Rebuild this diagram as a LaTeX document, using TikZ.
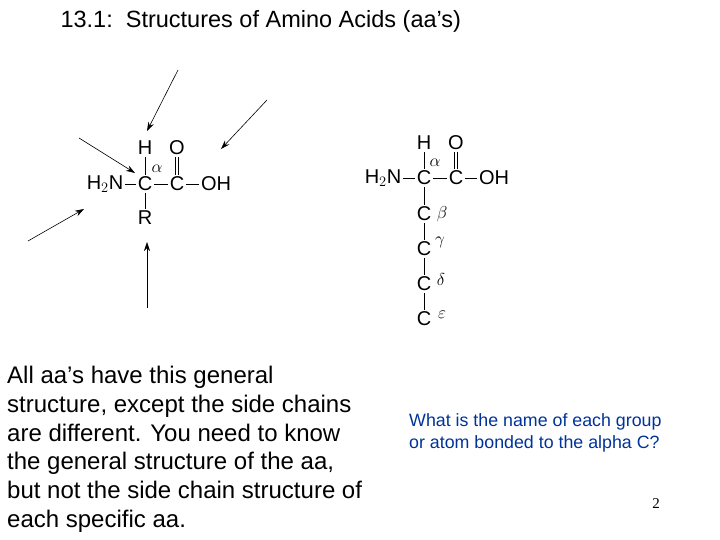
\documentclass[tikz,border=0pt]{standalone}
\usepackage{fontspec}
\usetikzlibrary{arrows.meta}
\setmainfont{Liberation Sans}
\newfontfamily\greekf{Liberation Serif}
\definecolor{qblue}{RGB}{0,51,153}
\begin{document}
\begin{tikzpicture}[x=1pt,y=-1pt,
  atm/.style={inner sep=2pt,font=\fontsize{20}{20}\selectfont},
  gr/.style={inner sep=0pt,font=\fontsize{19}{19}\selectfont\greekf},
  bond/.style={line width=0.6pt},
  pt/.style={-{Stealth[length=9pt,width=6pt]},line width=0.6pt}]
\useasboundingbox (0,0) rectangle (720,540);
\node[anchor=west,font=\fontsize{23.5}{23.5}\selectfont] (title) at (57,21) {13.1:\ \ Structures of Amino Acids (aa’s)};
% left molecule
\node[atm] (n1) at (105,184) {H$_2$N};
\node[atm] (c1) at (145,184) {C};
\node[atm] (k1) at (177,184) {C};
\node[atm] (oh1) at (216,184) {OH};
\node[atm] (h1) at (145,148) {H};
\node[atm] (o1) at (177,148) {O};
\node[atm] (r1) at (145,218) {R};
\node[gr] (a1) at (157,169) {$\alpha$};
\draw[bond] (n1) -- (c1); \draw[bond] (c1) -- (k1); \draw[bond] (k1) -- (oh1);
\draw[bond] (c1) -- (h1); \draw[bond] (c1) -- (r1);
\draw[bond] ([xshift=-1.5pt]k1.north) -- ([xshift=-1.5pt]o1.south);
\draw[bond] ([xshift=1.5pt]k1.north) -- ([xshift=1.5pt]o1.south);
\coordinate (s1) at (178,70); \coordinate (e1) at (147,131);
\coordinate (s2) at (267,100); \coordinate (e2) at (221,149);
\coordinate (s3) at (79,138); \coordinate (e3) at (135,173);
\coordinate (s4) at (28,241); \coordinate (e4) at (84,209);
\coordinate (s5) at (147,308); \coordinate (e5) at (147,242);
\foreach \i in {1,...,5} \draw[pt] (s\i) -- (e\i);
% right molecule
\node[atm] (n2) at (383,178) {H$_2$N};
\node[atm] (c2) at (424,178) {C};
\node[atm] (k2) at (456,178) {C};
\node[atm] (oh2) at (494,178) {OH};
\node[atm] (h2) at (424,143) {H};
\node[atm] (o2) at (456,143) {O};
\node[gr] (a2) at (435,163) {$\alpha$};
\node[atm] (cb) at (424,214) {C};
\node[atm] (cg) at (424,249) {C};
\node[atm] (cd) at (424,284) {C};
\node[atm] (ce) at (424,319) {C};
\node[gr] (lb) at (442,214) {$\beta$};
\node[gr] (lg) at (440,242) {$\gamma$};
\node[gr] (ld) at (441,279) {$\delta$};
\node[gr] (le) at (442,315) {$\varepsilon$};
\draw[bond] (n2) -- (c2); \draw[bond] (c2) -- (k2); \draw[bond] (k2) -- (oh2);
\draw[bond] (c2) -- (h2); \draw[bond] (c2) -- (cb); \draw[bond] (cb) -- (cg);
\draw[bond] (cg) -- (cd); \draw[bond] (cd) -- (ce);
\draw[bond] ([xshift=-1.5pt]k2.north) -- ([xshift=-1.5pt]o2.south);
\draw[bond] ([xshift=1.5pt]k2.north) -- ([xshift=1.5pt]o2.south);
% texts
\node[anchor=north west,align=left,inner sep=0pt,font=\fontsize{24}{28.8}\selectfont] (para) at (7,366)
{All aa’s have this general\\structure, except the side chains\\are different. You need to know\\the general structure of the aa,\\but not the side chain structure of\\each specific aa.};
\node[anchor=north west,align=left,inner sep=0pt,text=qblue,font=\fontsize{17.8}{22}\selectfont] (q) at (409,413)
{What is the name of each group\\or atom bonded to the alpha C?};
\node[font=\fontsize{15}{15}\selectfont\greekf] (pg) at (656,504) {2};
\end{tikzpicture}
\end{document}
